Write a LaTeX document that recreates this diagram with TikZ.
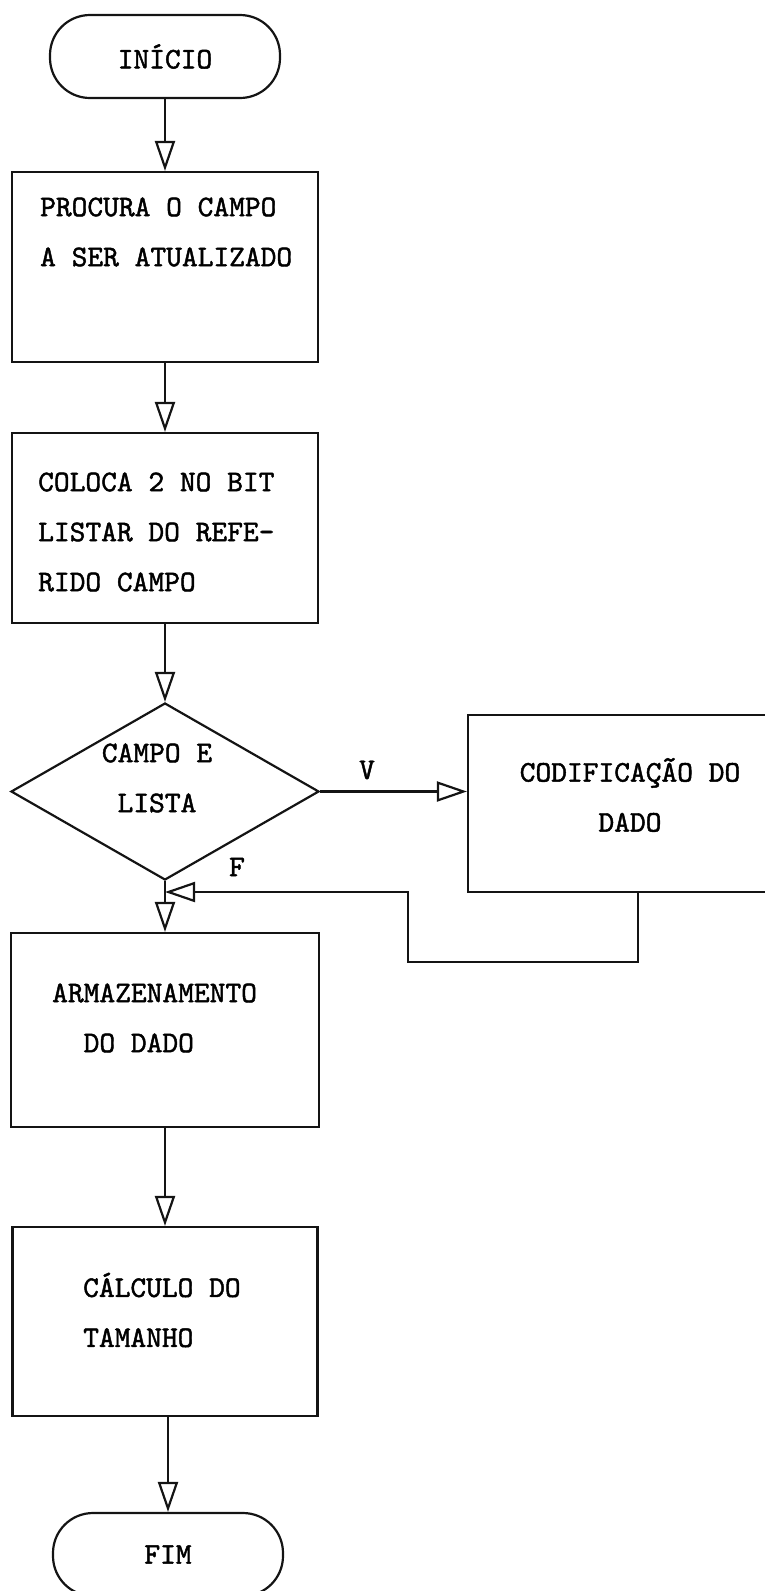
\documentclass[tikz,border=0pt]{standalone}
\usepackage{fontspec}
\usepackage{xcolor}
\usepackage{tikz}
\usetikzlibrary{arrows.meta,shapes.geometric}
\newfontfamily\fcmono{lmmono10-regular.otf}[FakeBold=1.5]
\definecolor{fcInk}{RGB}{20,20,20}

\begin{document}
\begin{tikzpicture}[x=1pt,y=-1pt,
  every node/.style={font=\fontsize{30}{50}\selectfont\fcmono},
  >={Triangle[open,length=30pt,width=20pt]},
  term/.style={draw=fcInk,line width=2.2pt,rounded corners=40pt,
               minimum width=230pt,minimum height=83pt},
  blk/.style ={draw=fcInk,line width=2.2pt,
               minimum width=306pt,minimum height=190pt},
  dec/.style ={draw=fcInk,line width=2.2pt,shape=diamond,inner sep=0pt,
               minimum width=308pt,minimum height=177pt},
  txt/.style ={inner sep=0pt,align=left,anchor=west},
  flow/.style={->,line width=2.2pt,fcInk}
]
\useasboundingbox (0,0) rectangle (765,1591);
\clip (0,0) rectangle (765,1591);

\node[term] (IN) at (165,56.5) {INÍCIO};
\node[blk]  (B1) at (165,267) {};
\node[txt]  (T1) at (40,232) {PROCURA O CAMPO\\A SER ATUALIZADO};
\node[blk]  (B2) at (165,528) {};
\node[txt]  (T2) at (38,532) {COLOCA 2 NO BIT\\LISTAR DO REFE-\\RIDO CAMPO};
\node[dec]  (D)  at (165,791.5) {};
\node[align=center,inner sep=0pt] (TD) at (157,778) {CAMPO E\\LISTA};
\node[blk,minimum width=340pt,minimum height=177pt] (C) at (638,803.5) {};
\node[align=center,inner sep=0pt] (TC) at (630,795) {CODIFICAÇÃO DO\\DADO};
\node[blk,minimum width=308pt,minimum height=194pt] (B3) at (165,1030) {};
\node[txt]  (T3) at (52,1018) {ARMAZENAMENTO\\\hspace*{31.5pt}DO DADO};
\node[blk,minimum width=305pt,minimum height=189pt] (B4) at (165,1321.5) {};
\node[txt]  (T4) at (83,1310) {CÁLCULO DO\\TAMANHO};
\node[term] (FM) at (168,1554.5) {FIM};
\node (LV) at (367,770) {V};
\node (LF) at (237,867) {F};
\coordinate (R) at (408,962);
\coordinate (J) at (165,892);

\draw[flow] (IN) -- (B1);
\draw[flow] (B1) -- (B2);
\draw[flow] (B2) -- (D);
\draw[flow] (D) -- (D -| C.west);
\draw[flow] (D) -- (B3);
\draw[flow] (C) |- (R) |- (J);
\draw[flow] (B3) -- (B4);
\draw[flow] (B4.south -| FM.north) -- (FM.north);
\end{tikzpicture}
\end{document}
